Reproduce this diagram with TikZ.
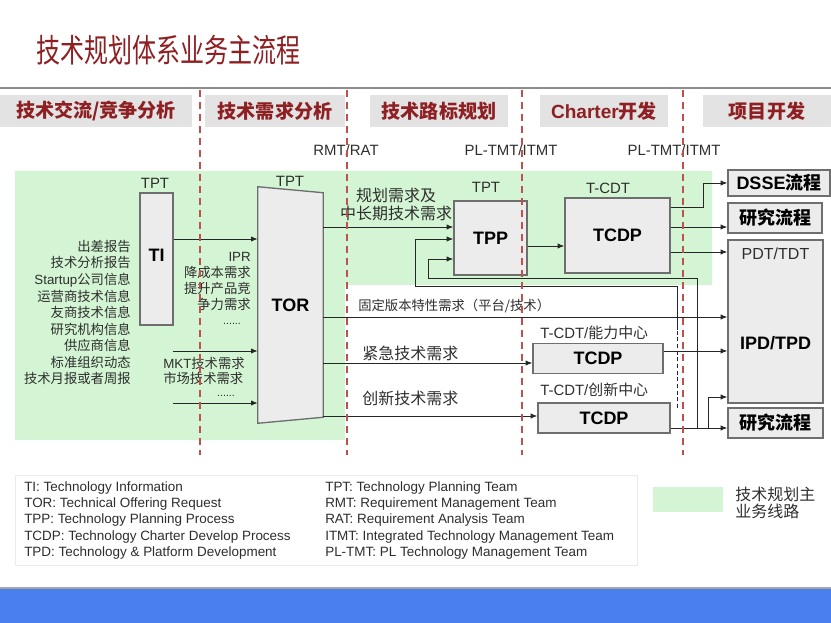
\documentclass[tikz,border=0pt]{standalone}
\usepackage{fontspec}
\setmainfont{Liberation Sans}
\newfontfamily\cjk{Noto Sans CJK SC}
\usetikzlibrary{arrows.meta}

\newcommand\zh[1]{{\cjk #1}}
\newcommand\px{0.75pt}

\definecolor{titlered}{HTML}{8E1F22}
\definecolor{hdrfill}{HTML}{E3E3E3}
\definecolor{planfill}{HTML}{D3F5D3}
\definecolor{boxfill}{HTML}{ECECEC}
\definecolor{boxline}{HTML}{6E6E6E}
\definecolor{phasered}{HTML}{C0504D}
\definecolor{txt}{HTML}{2E2E2E}
\definecolor{barblue}{HTML}{4A7FF0}

\tikzset{
  hdr/.style={fill=hdrfill,text=titlered,inner sep=0pt,font=\bfseries\fontsize{14.3}{16}\selectfont},
  box/.style={draw=boxline,fill=boxfill,line width=1pt,inner sep=0pt},
  boxlbl/.style={font=\bfseries\fontsize{13.5}{15}\selectfont,text=black,inner sep=0pt},
  team/.style={font=\fontsize{11.2}{13}\selectfont,text=txt,inner sep=0pt},
  note/.style={font=\cjk\fontsize{10}{12.3}\selectfont,text=txt,inner sep=0pt},
  need/.style={font=\cjk\fontsize{12}{14}\selectfont,text=txt,inner sep=0pt},
  flow/.style={-{Latex[length=5pt,width=4pt]},draw=black!85,line width=0.7pt},
  phase/.style={draw=phasered,line width=1.7pt,dash pattern=on 5.5pt off 3.5pt},
  keytext/.style={font=\fontsize{10.1}{12.2}\selectfont,text=txt,align=left,inner sep=0pt,anchor=west},
}

\begin{document}
\begin{tikzpicture}[x=0.75pt,y=-0.75pt]
\useasboundingbox (0,0) rectangle (831,623);

% title
\node[anchor=west,inner sep=0pt,text=titlered,font=\cjk\fontsize{18}{20}\selectfont] (title) at (36,50) {\scalebox{1}[1.35]{技术规划体系业务主流程}};
\draw[line width=2.2pt,draw=black!45] (0,88) -- (831,88);

% phase headers
\node[hdr,minimum width=192*\px,minimum height=32*\px] (h1) at (96,111) {\zh{技术交流/竞争分析}};
\node[hdr,minimum width=140*\px,minimum height=32*\px] (h2) at (275,111) {\zh{技术需求分析}};
\node[hdr,minimum width=138*\px,minimum height=32*\px] (h3) at (439,111) {\zh{技术路标规划}};
\node[hdr,minimum width=128*\px,minimum height=32*\px] (h4) at (604,111) {Charter\zh{开发}};
\node[hdr,minimum width=128*\px,minimum height=32*\px] (h5) at (767,111) {\zh{项目开发}};

\node[team] (rmt) at (346,150) {RMT/RAT};
\node[team] (pltmt1) at (511,150) {PL-TMT/ITMT};
\node[team] (pltmt2) at (674,150) {PL-TMT/ITMT};

% main line area
\fill[planfill] (15,171) -- (712,171) -- (712,285) -- (345,285) -- (345,440) -- (15,440) -- cycle;

% TI
\node[team] (tpt1) at (155,183) {TPT};
\node[box,minimum width=33*\px,minimum height=132*\px] (ti) at (156.5,259) {};
\node[boxlbl] (tilbl) at (156.5,255) {TI};
\node[note,anchor=east,align=right,font=\cjk\fontsize{10}{12.4}\selectfont] (sources) at (131,312.5)
  {出差报告\\技术分析报告\\\textrm{Startup}公司信息\\运营商技术信息\\友商技术信息\\研究机构信息\\供应商信息\\标准组织动态\\技术月报或者周报};

% TOR
\node[team] (tpt2) at (290,181) {TPT};
\node[minimum width=65*\px,minimum height=236*\px,inner sep=0pt] (tor) at (290.5,305) {};
\filldraw[draw=boxline,fill=boxfill,line width=1pt] (tor.north west) -- ([yshift=-6*\px]tor.north east)
  -- ([yshift=6*\px]tor.south east) -- (tor.south west) -- cycle;
\node[boxlbl] (torlbl) at (tor) {TOR};

\node[note,anchor=east,align=right,font=\cjk\fontsize{10}{11.8}\selectfont] (ipr) at (251,281.5)
  {\textrm{IPR}\\降成本需求\\提升产品竞\\争力需求};
\node[team,font=\fontsize{8}{9}\selectfont] (dots1) at (232,324) {......};
\node[note,anchor=west,align=left,font=\cjk\fontsize{10}{11.3}\selectfont] (mkt) at (163,370.5)
  {\textrm{MKT}技术需求\\市场技术需求};
\node[team,font=\fontsize{8}{9}\selectfont] (dots2) at (226,396) {......};

\coordinate (in1) at (173,351);
\coordinate (in2) at (173,403);
\draw[flow] (ti.east |- 0,239) -- (tor.west |- 0,239);
\draw[flow] (in1) -- (tor.west |- in1);
\draw[flow] (in2) -- (tor.west |- in2);

% TPP
\node[team] (tpt3) at (486,187) {TPT};
\node[box,minimum width=73*\px,minimum height=74*\px] (tpp) at (490.5,238) {};
\node[boxlbl] (tpplbl) at (tpp) {TPP};
\node[need,align=center] (plan) at (396,204.5) {规划需求及\\中长期技术需求};
\draw[flow] (tor.east |- 0,227) -- (tpp.west |- 0,227);

% TCDP (main line)
\node[team] (tcdt1) at (608,188) {T-CDT};
\node[box,minimum width=105*\px,minimum height=75*\px] (tcdp) at (617.5,235.5) {};
\node[boxlbl] (tcdplbl) at (tcdp) {TCDP};
\draw[flow] (tpp.east |- 0,246) -- (tcdp.west |- 0,246);

% TCDP for capability / innovation centre
\node[team,anchor=west] (tcdt2) at (540,333) {T-CDT/\zh{能力中心}};
\node[box,minimum width=130*\px,minimum height=30*\px] (tcdpa) at (598,358.5) {};
\node[boxlbl] (tcdpalbl) at (tcdpa) {TCDP};
\node[team,anchor=west] (tcdt3) at (540,390) {T-CDT/\zh{创新中心}};
\node[box,minimum width=132*\px,minimum height=30*\px] (tcdpb) at (604,418) {};
\node[boxlbl] (tcdpblbl) at (tcdpb) {TCDP};

% project flows
\node[box,minimum width=102*\px,minimum height=26*\px] (dsse) at (779,183) {};
\node[boxlbl] (dsselbl) at (dsse) {DSSE\zh{流程}};
\node[box,minimum width=94*\px,minimum height=30*\px] (yj1) at (775,218) {};
\node[boxlbl,font=\cjk\bfseries\fontsize{13.5}{15}\selectfont] (yj1lbl) at (yj1) {研究流程};
\node[box,minimum width=95*\px,minimum height=163*\px] (ipd) at (775.5,321.5) {};
\node[team,font=\fontsize{12}{14}\selectfont] (pdt) at (775.5,254) {PDT/TDT};
\node[boxlbl] (ipdlbl) at (775.5,343) {IPD/TPD};
\node[box,minimum width=95*\px,minimum height=30*\px] (yj2) at (775.5,423) {};
\node[boxlbl,font=\cjk\bfseries\fontsize{13.5}{15}\selectfont] (yj2lbl) at (yj2) {研究流程};

\draw[flow] (tcdp.east |- 0,207) -- ++(33,0) |- (dsse.west);
\draw[flow] (tcdp.east |- 0,227) -- (yj1.west |- 0,227);
\draw[flow] (tcdp.east |- 0,252) -- (ipd.west |- 0,252);

% requirements from TOR
\node[note,anchor=west] (fixed) at (358,306) {固定版本特性需求（平台/技术）};
\node[need,anchor=west] (urgent) at (362,353) {紧急技术需求};
\node[need,anchor=west] (innov) at (362,398) {创新技术需求};
\draw[flow] (tor.east |- 0,317) -- (ipd.west |- 0,317);
\draw[flow] (tor.east |- 0,363) -- (tcdpa.west |- 0,363);
\draw[flow] (tor.east |- 0,416) -- (tcdpb.west |- 0,416);
\draw[flow] (tcdpa.east |- 0,351) -- (ipd.west |- 0,351);
\draw[flow] (tcdpb.east |- 0,428) -- (yj2.west |- 0,428);
\draw[flow] (tcdpb.east |- 0,428) ++(38,0) |- (ipd.west |- 0,397);

% feedback to TPP
\draw[flow] (tcdpb.east |- 0,428) ++(27,0) |- (428,278) |- (tpp.west |- 0,259);
\coordinate (fb) at (677,330);
\draw[draw=black!85,line width=0.6pt,dash pattern=on 3pt off 2pt] (677,408) -- (fb);
\draw[flow] (fb) |- (415,286) |- (tpp.west |- 0,239);

% phase borders
\foreach \x in {200,347,522,683}
  \draw[phase] (\x,90) -- (\x,455);

% legend
\node[draw=black!8,fill=white,minimum width=622*\px,minimum height=90*\px,inner sep=0pt] (keybox) at (326,520) {};
\node[keytext] (keyl) at (24,520.5) {TI: Technology Information\\TOR: Technical Offering Request\\TPP: Technology Planning Process\\TCDP: Technology Charter Develop Process\\TPD: Technology \& Platform Development};
\node[keytext] (keyr) at (325,520.5) {TPT: Technology Planning Team\\RMT: Requirement Management Team\\RAT: Requirement Analysis Team\\ITMT: Integrated Technology Management Team\\PL-TMT: PL Technology Management Team};
\node[fill=planfill,minimum width=70*\px,minimum height=25*\px,inner sep=0pt] (swatch) at (688,499.5) {};
\node[need,anchor=west,align=left,font=\cjk\fontsize{12}{12.8}\selectfont] (swatchlbl) at (735,502.5) {技术规划主\\业务线路};

% bottom bar
\fill[barblue] (0,588) rectangle (831,623);
\draw[black!35,line width=0.8pt] (0,588) -- (831,588);
\end{tikzpicture}
\end{document}
